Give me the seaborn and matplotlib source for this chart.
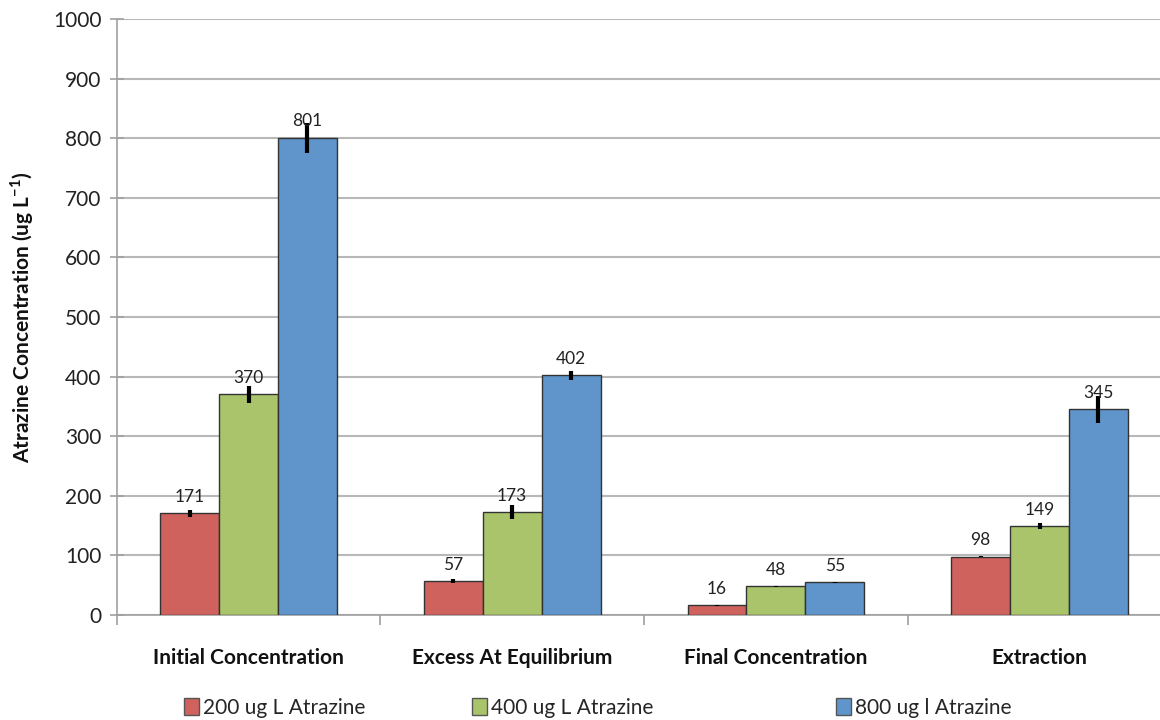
import matplotlib
matplotlib.use("Agg")
import matplotlib.pyplot as plt
from matplotlib.patches import Patch
import numpy as np
import pandas as pd
import seaborn as sns

# Chart data
categories = ["Initial Concentration", "Excess At Equilibrium", "Final Concentration", "Extraction"]
series_names = ["200 ug L Atrazine", "400 ug L Atrazine", "800 ug l Atrazine"]
vals_200 = [171, 57, 16, 98]
vals_400 = [370, 173, 48, 149]
vals_800 = [801, 402, 55, 345]
err_200 = [6, 3, 0.5, 1]
err_400 = [15, 12, 1, 5]
err_800 = [25, 7, 0.5, 22]
y_ticks = [0, 100, 200, 300, 400, 500, 600, 700, 800, 900, 1000]

colors = ["#CF625D", "#AAC46C", "#5F95CA"]

sns.set_theme(style="white")
plt.rcParams["font.family"] = ["Lato", "DejaVu Sans"]
plt.rcParams["mathtext.fontset"] = "custom"
plt.rcParams["mathtext.rm"] = "Lato"
plt.rcParams["mathtext.bf"] = "Lato:bold"

rows = []
for name, vals, errs in zip(series_names, [vals_200, vals_400, vals_800], [err_200, err_400, err_800]):
    for c, v, e in zip(categories, vals, errs):
        rows.append({"category": c, "series": name, "value": v, "err": e})
df = pd.DataFrame(rows)

fig = plt.figure(figsize=(11.6, 7.2), dpi=100)
ax = fig.add_axes([0.1006, 0.1458, 0.8994, 0.8278])

sns.barplot(data=df, x="category", y="value", hue="series", order=categories,
            hue_order=series_names, palette=colors, saturation=1, width=0.67, gap=0,
            errorbar=None, edgecolor="#333333", linewidth=1.0, ax=ax,
            legend=False, zorder=3)

# Error bars and value labels on each bar
for container, name in zip(ax.containers, series_names):
    sub = df[df["series"] == name].set_index("category").loc[categories]
    xs = [p.get_x() + p.get_width() / 2 for p in container.patches]
    ax.errorbar(xs, sub["value"].values, yerr=sub["err"].values, fmt="none",
                ecolor="black", elinewidth=3, capsize=0, zorder=4)
    for x, v in zip(xs, sub["value"].values):
        ax.annotate(f"{v:d}", (x, v), xytext=(0, 6), textcoords="offset points",
                    ha="center", va="bottom", fontsize=12.5, color="#222222", zorder=5)

ax.set_ylim(0, 1000)
ax.set_yticks(y_ticks)
ax.set_xlim(-0.5, 3.457)
ax.yaxis.grid(True, color="#B8B8B8", linewidth=1.5)
ax.set_axisbelow(True)

for s in ["top", "right"]:
    ax.spines[s].set_visible(False)
for s in ["left", "bottom"]:
    ax.spines[s].set_color("#A0A0A0")
    ax.spines[s].set_linewidth(1.2)

ax.tick_params(axis="y", direction="inout", length=10, width=1.2, color="#A0A0A0",
               labelsize=15, labelcolor="#222222", left=True, pad=6)
# Category labels between boundary ticks
ax.set_xticks(range(len(categories)))
ax.set_xticklabels(categories, fontsize=15, fontweight="bold", color="#111111")
ax.tick_params(axis="x", length=0, pad=24)
ax.set_xticks([-0.5, 0.5, 1.5, 2.5], minor=True)
ax.tick_params(axis="x", which="minor", direction="out", length=7, width=1.2,
               color="#A0A0A0", bottom=True)

ax.set_xlabel("")
ax.set_ylabel(r"Atrazine Concentration (ug L$^{\mathbf{-1}}$)", fontsize=15,
              fontweight="bold", color="#111111", labelpad=12)

# Legend entries along the bottom
for name, col, xpos in zip(series_names, colors, [0.159, 0.407, 0.721]):
    fig.legend(handles=[Patch(facecolor=col, edgecolor="#555555", linewidth=1.0)],
               labels=[name], loc="center left", bbox_to_anchor=(xpos, 0.017),
               frameon=False, fontsize=15, handlelength=0.7, handleheight=0.85,
               handletextpad=0.2, borderaxespad=0, borderpad=0)

fig.savefig("out.png", dpi=100)
